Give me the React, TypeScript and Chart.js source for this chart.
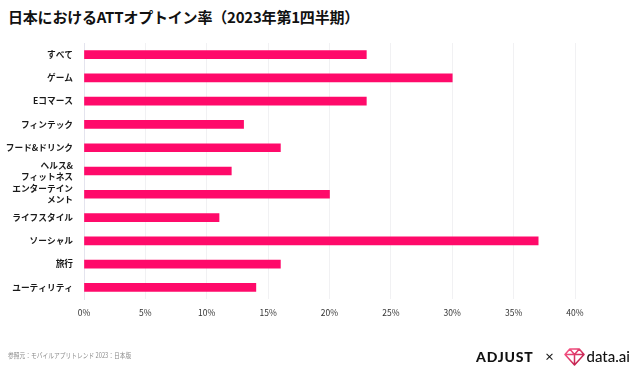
import React, { useEffect, useRef } from "react";
import { Chart, registerables } from "chart.js";

Chart.register(...registerables);

const categories: (string | string[])[] = [
  "すべて",
  "ゲーム",
  "Eコマース",
  "フィンテック",
  "フード&ドリンク",
  ["ヘルス&", "フィットネス"],
  ["エンターテイン", "メント"],
  "ライフスタイル",
  "ソーシャル",
  "旅行",
  "ユーティリティ",
];
const optInRates = [23, 30, 23, 13, 16, 12, 20, 11, 37, 16, 14];
const tickValues = [0, 5, 10, 15, 20, 25, 30, 35, 40];

const TITLE = "日本におけるATTオプトイン率（2023年第1四半期）";
const SOURCE = "参照元：モバイルアプリトレンド 2023：日本版";
const JP = '"Noto Sans CJK JP", "Noto Sans", sans-serif';

export default function App() {
  const ref = useRef<HTMLCanvasElement | null>(null);
  useEffect(() => {
    if (!ref.current) return;
    const chart = new Chart(ref.current, {
      type: "bar",
      data: {
        labels: categories,
        datasets: [
          {
            data: optInRates,
            backgroundColor: "#ff0a6a",
            borderWidth: 0,
            barThickness: 8,
          },
        ],
      },
      options: {
        indexAxis: "y",
        animation: false,
        responsive: false,
        maintainAspectRatio: false,
        layout: { padding: { left: 0, right: 65, top: 43, bottom: 50 } },
        plugins: {
          legend: { display: false },
          tooltip: { enabled: false },
          title: { display: false },
        },
        scales: {
          x: {
            min: 0,
            max: 40,
            afterBuildTicks: (s: any) => {
              s.ticks = tickValues.map((v) => ({ value: v }));
            },
            afterFit: (s: any) => {
              s.height = 24;
            },
            ticks: {
              padding: 9,
              color: "#333",
              font: { family: JP, size: 8.5 },
              callback: (v: any) => v + "%",
            },
            grid: { color: "#f1f1f3", drawTicks: false, lineWidth: 1 },
            border: { display: false },
          },
          y: {
            afterFit: (s: any) => {
              s.width = 84;
            },
            ticks: {
              autoSkip: false,
              padding: 11,
              color: "#1a1a1a",
              font: { family: JP, size: 8.7, weight: "bold", lineHeight: 1.3 },
            },
            grid: { display: false, drawTicks: false },
            border: { display: true, color: "#e4e4ee", width: 1 },
          },
        },
      },
    });
    return () => chart.destroy();
  }, []);

  return (
    <div
      style={{
        position: "absolute",
        left: 0,
        top: 0,
        width: 640,
        height: 373,
        background: "#fff",
        overflow: "hidden",
        fontFamily: JP,
      }}
    >
      <div
        style={{
          position: "absolute",
          left: 8,
          top: 6,
          fontSize: 15,
          fontWeight: 700,
          color: "#111",
          whiteSpace: "nowrap",
          letterSpacing: -0.2,
        }}
      >
        {TITLE}
      </div>
      <canvas
        ref={ref}
        width={640}
        height={373}
        style={{ position: "absolute", left: 0, top: 0 }}
      />
      <div
        style={{
          position: "absolute",
          left: 8,
          top: 350,
          fontSize: 7.2,
          color: "#8a8a8a",
          whiteSpace: "nowrap",
          transform: "scaleX(0.8)",
          transformOrigin: "left center",
        }}
      >
        {SOURCE}
      </div>
      <div
        style={{
          position: "absolute",
          left: 476,
          top: 346,
          display: "flex",
          alignItems: "center",
          whiteSpace: "nowrap",
          height: 20,
        }}
      >
        <span
          style={{
            fontFamily: '"Lato", "Roboto", sans-serif',
            fontWeight: 900,
            fontSize: 14,
            color: "#111",
            letterSpacing: 0.8,
          }}
        >
          ADJUST
        </span>
        <span style={{ fontSize: 10, color: "#111", margin: "0 0 0 11px", fontWeight: 700 }}>×</span>
        <svg width="21" height="19" viewBox="0 0 22 20" style={{ marginLeft: 9 }}>
          <defs>
            <linearGradient id="dg" x1="0" y1="0" x2="1" y2="1">
              <stop offset="0" stopColor="#ff5a8c" />
              <stop offset="1" stopColor="#b0103c" />
            </linearGradient>
          </defs>
          <path
            d="M6 2 L16 2 L21 8 L11 19 L1 8 Z M1 8 L21 8 M6 2 L11 8 L16 2 M11 8 L11 19"
            fill="none"
            stroke="url(#dg)"
            strokeWidth="1.6"
            strokeLinejoin="round"
          />
        </svg>
        <span
          style={{
            fontFamily: '"Lato", "Roboto", sans-serif',
            fontSize: 15,
            color: "#111",
            marginLeft: 2,
            fontWeight: 500,
          }}
        >
          data.ai
        </span>
      </div>
    </div>
  );
}
